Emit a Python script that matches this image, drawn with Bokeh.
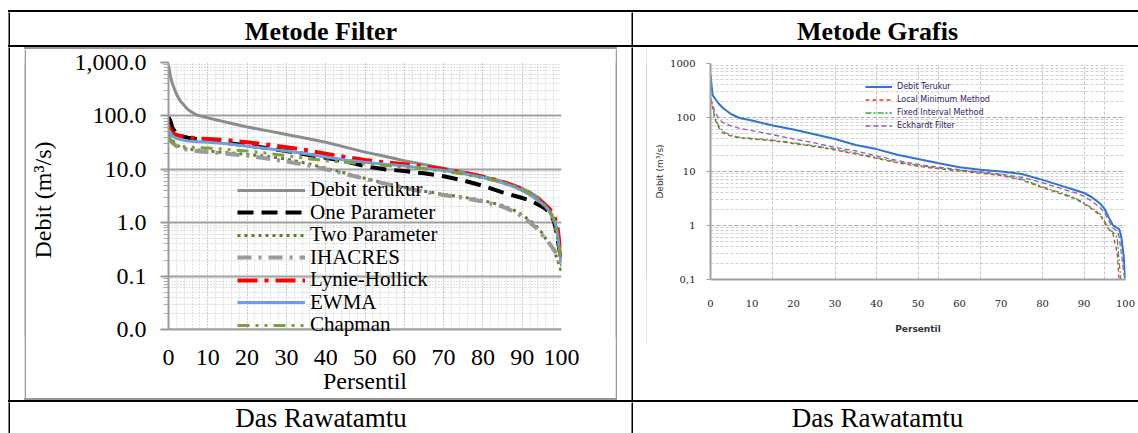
from bokeh.plotting import figure
from bokeh.layouts import row, column
from bokeh.models import (Spacer, Label, Legend, LegendItem, Range1d, FixedTicker, Div,
                          NumeralTickFormatter, CustomJSTickFormatter, BoxAnnotation, Span)
from bokeh.embed import file_html
from bokeh.resources import INLINE

# ---------------- data: Metode Filter (left chart) ----------------
persentil_filter = [0, 0.5, 1, 2, 3, 5, 7, 10, 15, 20, 25, 30, 35, 40, 45, 50, 55, 60, 65, 70,
                    75, 80, 85, 88, 90, 92, 94, 95, 96, 97, 98, 98.5, 99, 99.5, 100]
debit_terukur = [900, 550, 400, 260, 190, 130, 105, 92, 75, 62, 53, 45, 38, 32, 26, 21, 17.5, 14.5, 12.3, 10.5,
                 8.9, 7.4, 5.9, 5.0, 4.4, 3.7, 3.0, 2.6, 2.2, 1.7, 1.2, 0.9, 0.6, 0.35, 0.18]
one_parameter = [95, 80, 60, 46, 42, 39, 37, 35, 31, 28, 25, 22, 19, 16.5, 14, 11.5, 10, 9.3, 8.4, 7.4,
                 6.2, 4.9, 3.7, 3.2, 2.9, 2.6, 2.2, 2.0, 1.8, 1.5, 1.1, 0.8, 0.5, 0.3, 0.2]
two_parameter = [45, 40, 35, 29, 26, 24, 23, 22, 20.5, 19, 17.5, 15.5, 13, 10.5, 8.5, 6.8, 5.5, 4.6, 3.9, 3.4,
                 3.0, 2.6, 2.1, 1.7, 1.4, 1.1, 0.8, 0.65, 0.5, 0.4, 0.3, 0.25, 0.2, 0.15, 0.12]
ihacres = [40, 35, 31, 27, 25, 23, 22, 21, 19.5, 18, 16, 14, 12, 10, 8.2, 6.6, 5.4, 4.5, 3.8, 3.3,
           2.9, 2.5, 2.0, 1.6, 1.3, 1.0, 0.75, 0.6, 0.5, 0.4, 0.32, 0.28, 0.24, 0.18, 0.14]
lynie_hollick = [65, 55, 48, 44, 42, 40, 38, 37, 35, 32, 29, 26, 23, 19.5, 17, 15, 13.5, 12.5, 11.3, 10,
                 8.7, 7.3, 5.8, 4.9, 4.2, 3.5, 2.8, 2.4, 2.1, 1.8, 1.4, 1.1, 0.8, 0.4, 0.2]
ewma = [55, 48, 42, 38, 36, 34, 33, 32, 30, 27, 24.5, 22, 19.5, 17, 15, 13.5, 12.5, 11.5, 10.5, 9.5,
        8.3, 7.0, 5.6, 4.7, 4.0, 3.3, 2.6, 2.3, 2.0, 1.6, 1.2, 0.9, 0.6, 0.3, 0.18]
chapman = [40, 36, 32, 28, 27, 26, 25.5, 25, 23.5, 22, 20, 18, 16, 14.5, 13.5, 12.5, 11.8, 11, 10.2, 9.3,
           8.2, 7.0, 5.7, 4.9, 4.2, 3.5, 2.8, 2.4, 2.0, 1.6, 1.1, 0.8, 0.5, 0.3, 0.15]
filter_names = ["Debit terukur", "One Parameter", "Two Parameter", "IHACRES",
                "Lynie-Hollick", "EWMA", "Chapman"]
x_ticks_filter = [0, 10, 20, 30, 40, 50, 60, 70, 80, 90, 100]
y_ticks_filter = [0.01, 0.1, 1, 10, 100, 1000]

# ---------------- data: Metode Grafis (right chart) ----------------
persentil_grafis = [0, 0.5, 1, 2, 3, 5, 7, 10, 15, 20, 25, 30, 35, 40, 45, 50, 55, 60, 65, 70,
                    75, 80, 85, 88, 90, 92, 94, 95, 96, 97, 98, 98.5, 99, 99.5, 100]
g_debit_terukur = [620, 260, 230, 180, 150, 115, 98, 88, 71, 60, 49, 40, 31, 26, 20.5, 17, 14.2, 12, 10.8, 10,
                   9.0, 7.0, 5.3, 4.5, 4.0, 3.3, 2.5, 2.0, 1.4, 1.0, 0.9, 0.85, 0.6, 0.3, 0.1]
g_local_minimum = [220, 150, 95, 65, 52, 45, 42, 40, 37, 33, 29, 25, 21, 17.5, 14.5, 12.5, 11.2, 10.2, 9.3, 8.4,
                   7.0, 5.0, 3.7, 3.1, 2.5, 2.0, 1.5, 1.1, 0.85, 0.7, 0.3, 0.09, 0.05, 0.05, 0.05]
g_fixed_interval = [220, 160, 100, 70, 55, 47, 43, 41, 38, 34, 30, 26, 22, 18, 15, 13, 11.5, 10.5, 9.6, 8.7,
                    7.2, 5.2, 3.9, 3.2, 2.6, 2.1, 1.6, 1.2, 0.85, 0.75, 0.6, 0.2, 0.08, 0.05, 0.05]
g_eckhardt = [220, 180, 130, 95, 80, 70, 63, 57, 48, 40, 34, 28, 24, 19.5, 16, 13.5, 12, 10.8, 9.8, 8.9,
              7.8, 6.2, 4.7, 4.0, 3.5, 2.8, 2.1, 1.7, 1.2, 0.9, 0.78, 0.6, 0.3, 0.15, 0.08]
grafis_names = ["Debit Terukur", "Local Minimum Method", "Fixed Interval Method", "Eckhardt Filter"]
x_ticks_grafis = [0, 10, 20, 30, 40, 50, 60, 70, 80, 90, 100]
x_grid_grafis = [15, 30, 40, 50, 55, 65, 80, 90, 95]
y_ticks_grafis = [0.1, 1, 10, 100, 1000]

SERIF = "Liberation Serif"


def block(w, h, color):
    p = figure(width=w, height=h, toolbar_location=None, output_backend="svg",
               x_axis_type=None, y_axis_type=None, min_border=0,
               outline_line_color=None, background_fill_color=color,
               border_fill_color=color)
    return p


def hline(w, h, color):
    return Div(width=w, height=h, margin=0, styles={"background-color": color})


def text_cell(w, h, txt, bold, size, cx=None, cy=None):
    p = figure(width=w, height=h, toolbar_location=None, output_backend="svg",
               x_axis_type=None, y_axis_type=None, min_border=0,
               x_range=Range1d(0, w), y_range=Range1d(0, h),
               outline_line_color=None, background_fill_color="white",
               border_fill_color="white")
    p.add_layout(Label(x=w / 2 if cx is None else cx, y=h / 2 if cy is None else cy, text=txt,
                       text_align="center", text_baseline="middle",
                       text_font=SERIF, text_font_style="bold" if bold else "normal",
                       text_font_size=size, text_color="black"))
    return p


# ---------------- left chart ----------------
# frame runs 8 px below the 0.01 line so the legend's last entry is not clipped
EXT = 8 / 53.4
pL = figure(width=589, height=349, y_axis_type="log",
            x_range=Range1d(0, 100), y_range=Range1d(0.01 * 10 ** (-EXT), 1000),
            min_border_left=142, min_border_right=54, min_border_top=13, min_border_bottom=61,
            toolbar_location=None, output_backend="svg", outline_line_color=None,
            background_fill_color="white", border_fill_color="white")

x_minor_L = list(range(0, 101, 2))
y_minor_L = [m * 10.0 ** e for e in range(-2, 3) for m in range(2, 10)]
pL.xaxis.ticker = FixedTicker(ticks=x_ticks_filter, minor_ticks=x_minor_L)
pL.yaxis.ticker = FixedTicker(ticks=y_ticks_filter, minor_ticks=y_minor_L)
pL.xgrid.ticker = FixedTicker(ticks=x_ticks_filter, minor_ticks=x_minor_L)
pL.ygrid.ticker = FixedTicker(ticks=y_ticks_filter, minor_ticks=y_minor_L)
pL.yaxis.formatter = NumeralTickFormatter(format="0,0.0")

pL.xgrid.grid_line_color = "#b4b4b4"
pL.xgrid.grid_line_dash = "1 2"
pL.xgrid.minor_grid_line_color = "#c8c8c8"
pL.xgrid.minor_grid_line_dash = "1 2"
pL.ygrid.grid_line_color = "#a0a0a0"
pL.ygrid.grid_line_width = 2
pL.ygrid.minor_grid_line_color = "#c0c0c0"
pL.ygrid.minor_grid_line_dash = "1 2"

# hide the grid below the 0.01 line and redraw that line
pL.add_layout(BoxAnnotation(top=0.01, fill_color="white", fill_alpha=1, line_color=None,
                            level="underlay"))
pL.add_layout(Span(location=0.01, dimension="width", line_color="#a0a0a0", line_width=2,
                   level="underlay"))

for ax in (pL.xaxis[0], pL.yaxis[0]):
    ax.axis_line_color = "#999999"
    ax.axis_line_width = 2
    ax.major_label_text_font = SERIF
    ax.major_label_text_font_size = "24px"
    ax.major_label_text_color = "black"
    ax.axis_label_text_font = SERIF
    ax.axis_label_text_font_size = "24px"
    ax.axis_label_text_font_style = "normal"
    ax.axis_label_text_color = "black"

pL.xaxis.axis_line_color = None
pL.xaxis.major_tick_out = 0
pL.xaxis.major_tick_in = 0
pL.xaxis.minor_tick_out = 0
pL.xaxis.minor_tick_in = 0
pL.xaxis.major_label_standoff = 12
pL.xaxis.axis_label = "Persentil"
pL.xaxis.axis_label_standoff = 0

pL.yaxis.bounds = (0.01, 1000)
pL.yaxis.major_tick_out = 8
pL.yaxis.major_tick_in = 0
pL.yaxis.major_tick_line_color = "#999999"
pL.yaxis.major_tick_line_width = 2
pL.yaxis.minor_tick_out = 5
pL.yaxis.minor_tick_in = 0
pL.yaxis.minor_tick_line_color = "#aaaaaa"
pL.yaxis.major_label_standoff = 14
pL.yaxis.axis_label = "Debit (m\u00b3/s)"
pL.yaxis.axis_label_standoff = 16

styles_L = [
    dict(line_color="#8c8c8c", line_width=3),
    dict(line_color="black", line_width=4, line_dash="16 8"),
    dict(line_color="#5b7f2a", line_width=3, line_dash="3 4"),
    dict(line_color="#9a9a9a", line_width=4, line_dash="14 7 3 7"),
    dict(line_color="#ff0000", line_width=4, line_dash="20 7 4 7"),
    dict(line_color="#6f9fdc", line_width=3),
    dict(line_color="#7f9f3f", line_width=3, line_dash="12 6 3 6 3 6"),
]
series_L = [debit_terukur, one_parameter, two_parameter, ihacres, lynie_hollick, ewma, chapman]
LEG_PITCH = 22.5
for i, (name, ys, st) in enumerate(zip(filter_names, series_L, styles_L)):
    r = pL.line(persentil_filter, ys, **st)
    leg = Legend(items=[LegendItem(label=name, renderers=[r])],
                 location=(69, 135 - LEG_PITCH * i), background_fill_alpha=0,
                 border_line_color=None, label_text_font=SERIF, label_text_font_size="21px",
                 label_text_color="black", glyph_width=68, glyph_height=20, label_height=20,
                 spacing=0, padding=0, margin=0, label_standoff=5)
    pL.add_layout(leg)

# ---------------- right chart ----------------
pR = figure(width=491, height=298, y_axis_type="log",
            x_range=Range1d(0, 100), y_range=Range1d(0.1, 1000),
            min_border_left=63, min_border_right=13, min_border_top=16, min_border_bottom=66,
            toolbar_location=None, output_backend="svg", outline_line_color=None,
            background_fill_color="white", border_fill_color="white")
y_minor_R = [m * 10.0 ** e for e in range(-1, 3) for m in range(2, 10)]
pR.xaxis.ticker = FixedTicker(ticks=x_ticks_grafis, minor_ticks=[])
pR.xgrid.ticker = FixedTicker(ticks=x_grid_grafis, minor_ticks=[])
pR.yaxis.ticker = FixedTicker(ticks=y_ticks_grafis, minor_ticks=y_minor_R)
pR.ygrid.ticker = FixedTicker(ticks=y_ticks_grafis, minor_ticks=y_minor_R)
pR.yaxis.formatter = CustomJSTickFormatter(
    code="return tick < 1 ? tick.toString().replace('.', ',') : tick.toFixed(0);")

pR.xgrid.grid_line_color = "#c4c4c4"
pR.xgrid.grid_line_dash = "3 2"
pR.ygrid.grid_line_color = "#aaaaaa"
pR.ygrid.grid_line_dash = "4 2"
pR.ygrid.minor_grid_line_color = "#d0d0d0"
pR.ygrid.minor_grid_line_dash = "3 2"

for ax in (pR.xaxis[0], pR.yaxis[0]):
    ax.axis_line_color = "#a0a0a0"
    ax.axis_line_width = 2
    ax.major_label_text_font = "DejaVu Serif"
    ax.major_label_text_font_size = "10px"
    ax.major_label_text_color = "#222222"
    ax.axis_label_text_font = "DejaVu Sans"
    ax.axis_label_text_font_size = "9px"
    ax.axis_label_text_color = "#333333"
    ax.minor_tick_out = 0
    ax.minor_tick_in = 0

pR.xaxis.major_tick_out = 0
pR.xaxis.major_tick_in = 0
pR.xaxis.major_label_standoff = 20
pR.xaxis.axis_label = "Persentil"
pR.xaxis.axis_label_text_font_style = "bold"
pR.xaxis.axis_label_standoff = 14
pR.yaxis.major_tick_out = 4
pR.yaxis.major_tick_in = 0
pR.yaxis.major_tick_line_color = "#a0a0a0"
pR.yaxis.major_label_standoff = 11
pR.yaxis.axis_label = "Debit (m\u00b3/s)"
pR.yaxis.axis_label_text_font_style = "normal"
pR.yaxis.axis_label_standoff = 2

styles_R = [
    dict(line_color="#2f74d0", line_width=2),
    dict(line_color="#e8353a", line_width=1.3, line_dash="4 3"),
    dict(line_color="#31b04d", line_width=1.3, line_dash="6 2 2 2"),
    dict(line_color="#9b55c8", line_width=1.3, line_dash="5 3"),
]
series_R = [g_debit_terukur, g_local_minimum, g_fixed_interval, g_eckhardt]
items_R = []
for name, ys, st in zip(grafis_names, series_R, styles_R):
    r = pR.line(persentil_grafis, ys, **st)
    items_R.append(LegendItem(label=name, renderers=[r]))
legR = Legend(items=items_R, location=(155, 147), background_fill_alpha=0,
              border_line_color=None, label_text_font="DejaVu Sans", label_text_font_size="8px",
              label_text_color="#332266", glyph_width=27, glyph_height=13, label_height=13,
              spacing=0, padding=0, margin=0, label_standoff=5)
pR.add_layout(legR)

# ---------------- table layout ----------------
W_L, W_R = 621, 505
header = row(block(2, 33, "black"), text_cell(W_L, 33, "Metode Filter", True, "26px", cy=14),
             block(2, 33, "black"), text_cell(W_R, 33, "Metode Grafis", True, "26px", cx=244, cy=14),
             spacing=0)
left_cell = row(Spacer(width=14, height=353),
                column(hline(593, 2, "#999999"),
                       row(block(2, 349, "#999999"), pL, block(2, 349, "#999999"), spacing=0),
                       hline(593, 2, "#999999"), spacing=0),
                Spacer(width=14, height=353), spacing=0)
right_cell = row(Spacer(width=13, height=353),
                 column(row(block(1, 298, "#b0b0b0"), pR, spacing=0),
                        Spacer(width=492, height=55), spacing=0), spacing=0)
middle = row(block(2, 353, "black"), left_cell, block(2, 353, "black"), right_cell, spacing=0)
footer = row(block(2, 31, "black"), text_cell(W_L, 31, "Das Rawatamtu", False, "27px"),
             block(2, 31, "black"), text_cell(W_R, 31, "Das Rawatamtu", False, "27px", cx=244),
             spacing=0)
main = column(hline(1130, 2, "black"), header, hline(1130, 2, "black"), middle,
              hline(1130, 2, "black"), footer, spacing=0)
root = column(Spacer(width=1138, height=10),
              row(Spacer(width=8, height=423), main, spacing=0), spacing=0)

open("out.html", "w").write(file_html(root, INLINE))
